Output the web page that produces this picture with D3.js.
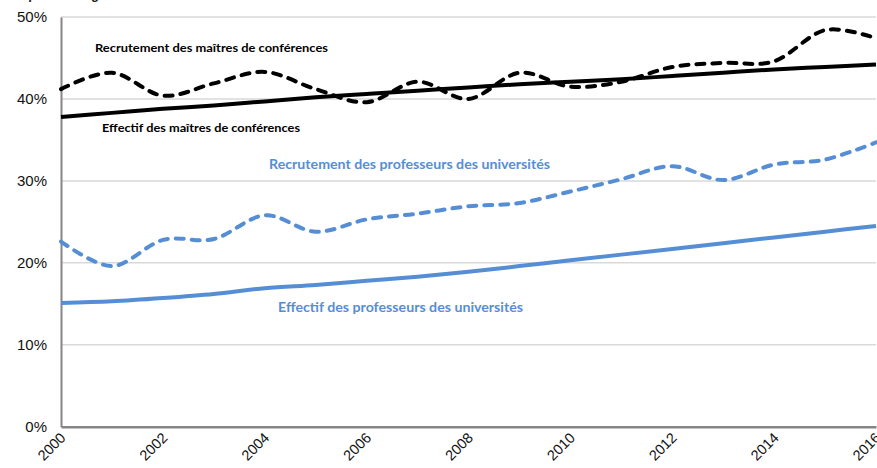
<!DOCTYPE html>
<html>
<head>
<meta charset="utf-8">
<script src="https://cdn.jsdelivr.net/npm/d3@7"></script>
<style>
  body { margin: 0; background: #fff; }
  svg { display: block; }
</style>
</head>
<body>
<div id="app"></div>
<script>
// shares (%) of women among university teaching staff, 2000-2016

const years = d3.range(2000, 2017);
const yTicks = [0, 10, 20, 30, 40, 50];
const xTicks = [2000, 2002, 2004, 2006, 2008, 2010, 2012, 2014, 2016];

const recrutMcf = [41.2, 43.2, 40.4, 41.9, 43.3, 41.2, 39.6, 42.1, 40.0, 43.2, 41.5, 42.1, 43.9, 44.4, 44.6, 48.4, 47.4];
const effectifMcf = [37.8, 38.3, 38.8, 39.2, 39.7, 40.2, 40.6, 41.0, 41.4, 41.8, 42.1, 42.4, 42.8, 43.2, 43.6, 43.9, 44.2];
const recrutPu = [22.6, 19.6, 22.8, 22.9, 25.8, 23.8, 25.3, 26.0, 26.9, 27.3, 28.7, 30.2, 31.8, 30.1, 32.0, 32.6, 34.7];
const effectifPu = [15.1, 15.3, 15.7, 16.2, 16.9, 17.3, 17.8, 18.3, 18.9, 19.6, 20.3, 21.0, 21.7, 22.4, 23.1, 23.8, 24.5];

const seriesLabels = [
  "Recrutement des maîtres de conférences",
  "Effectif des maîtres de conférences",
  "Recrutement des professeurs des universités",
  "Effectif des professeurs des universités"
];

const blue = "#558ed5";

const dimensions = { width: 877, height: 468 };
const plot = { left: 61, right: 876, top: 17, bottom: 426.7 };

const wrapper = d3.select("#app")
  .append("svg")
  .attr("width", dimensions.width)
  .attr("height", dimensions.height);

const xScale = d3.scaleLinear().domain([2000, 2016]).range([plot.left, plot.right]);
const yScale = d3.scaleLinear().domain([0, 50]).range([plot.bottom, plot.top]);

// cut-off caption at the very top
wrapper.append("text")
  .attr("x", 8)
  .attr("y", -1)
  .attr("font-family", "Liberation Sans, Arial, sans-serif")
  .attr("font-weight", "bold")
  .attr("font-size", 13)
  .attr("fill", "#222")
  .text("En pourcentage");

// grid
wrapper.append("g")
  .selectAll("line")
  .data(yTicks.filter(d => d > 0))
  .join("line")
  .attr("x1", plot.left)
  .attr("x2", plot.right)
  .attr("y1", d => yScale(d))
  .attr("y2", d => yScale(d))
  .attr("stroke", "#d9d9d9")
  .attr("stroke-width", 1.5);

// axes
const yAxis = wrapper.append("g")
  .attr("transform", `translate(${plot.left},0)`)
  .call(d3.axisLeft(yScale).tickValues(yTicks).tickSize(0).tickPadding(14).tickFormat(d => d + "%"));
yAxis.select(".domain").attr("stroke", "#868686").attr("stroke-width", 2);
yAxis.selectAll("text")
  .attr("font-family", "Liberation Sans, Arial, sans-serif")
  .attr("font-size", 15)
  .attr("fill", "#111");

const xAxis = wrapper.append("g")
  .attr("transform", `translate(0,${plot.bottom})`)
  .call(d3.axisBottom(xScale).tickValues(xTicks).tickSize(0).tickFormat(d3.format("d")));
xAxis.select(".domain").attr("stroke", "#868686").attr("stroke-width", 2.5);
xAxis.selectAll("text")
  .attr("font-family", "Liberation Sans, Arial, sans-serif")
  .attr("font-size", 14.5)
  .attr("fill", "#111")
  .attr("text-anchor", "end")
  .attr("dy", null)
  .attr("y", 0)
  .attr("transform", "translate(5,12) rotate(-45)");

// lines
const line = d3.line()
  .x((d, i) => xScale(years[i]))
  .y(d => yScale(d))
  .curve(d3.curveCardinal.tension(0));

const series = [
  { values: effectifPu, color: blue, dash: null },
  { values: recrutPu, color: blue, dash: "8,8" },
  { values: effectifMcf, color: "#000", dash: null },
  { values: recrutMcf, color: "#000", dash: "8,8" }
];

wrapper.append("g")
  .selectAll("path")
  .data(series)
  .join("path")
  .attr("d", d => line(d.values))
  .attr("fill", "none")
  .attr("stroke", d => d.color)
  .attr("stroke-width", 4)
  .attr("stroke-linecap", d => d.dash ? "round" : "butt")
  .attr("stroke-dasharray", d => d.dash);

// series labels
const labelPos = [
  { x: 95, y: 52, color: "#000", size: 12, w: 233 },
  { x: 102, y: 132, color: "#000", size: 12, w: 198 },
  { x: 269, y: 169, color: blue, size: 13, w: 281 },
  { x: 278, y: 312, color: blue, size: 13, w: 245 }
];

wrapper.append("g")
  .selectAll("text")
  .data(seriesLabels)
  .join("text")
  .attr("x", (d, i) => labelPos[i].x)
  .attr("y", (d, i) => labelPos[i].y)
  .attr("fill", (d, i) => labelPos[i].color)
  .attr("font-size", (d, i) => labelPos[i].size)
  .attr("textLength", (d, i) => labelPos[i].w)
  .attr("lengthAdjust", "spacingAndGlyphs")
  .attr("font-family", "Lato, 'Open Sans', sans-serif")
  .attr("font-weight", "bold")
  .text(d => d);
</script>
</body>
</html>
